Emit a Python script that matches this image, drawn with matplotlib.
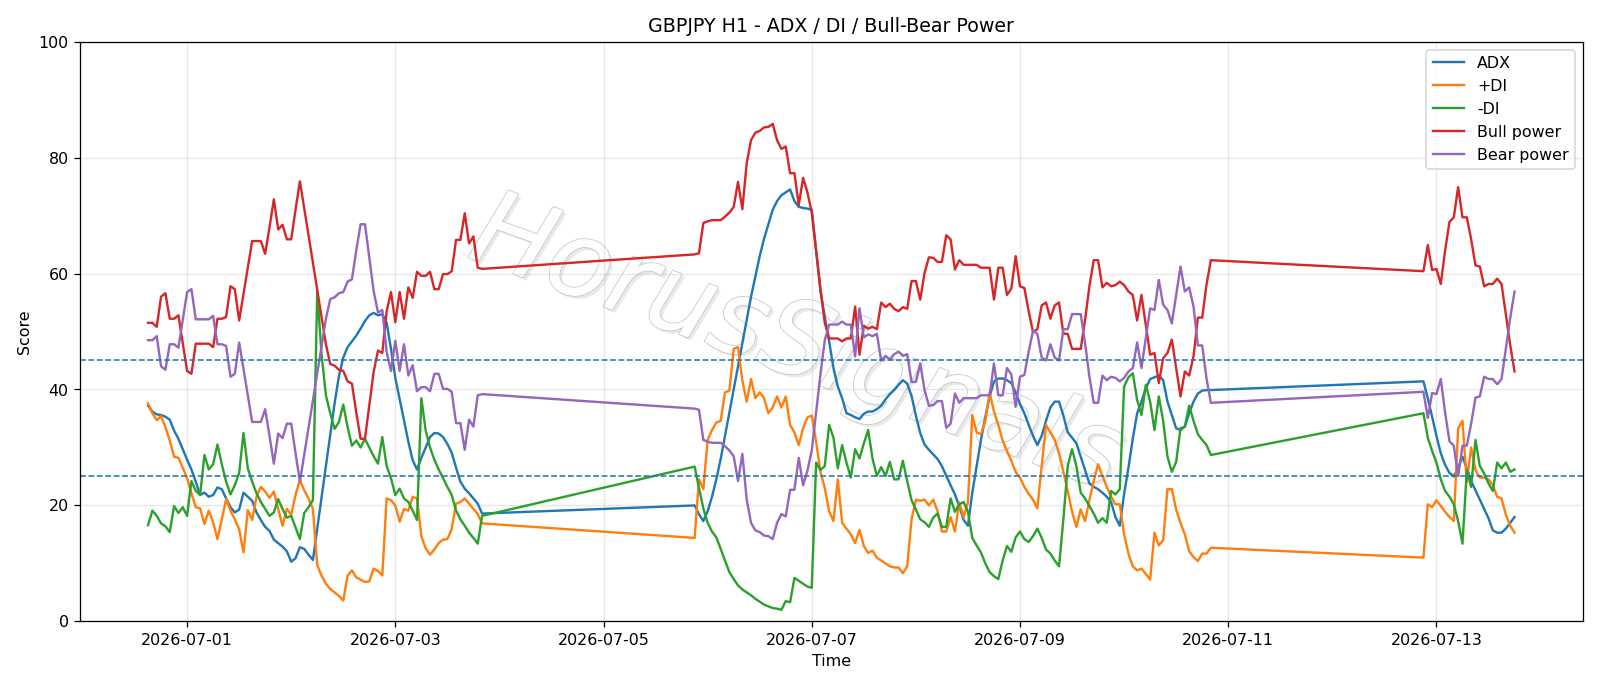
import numpy as np
import pandas as pd
import matplotlib
matplotlib.use("Agg")
import matplotlib.pyplot as plt
import matplotlib.patheffects as pe

# ---- hourly readings, three trading blocks (weekend gaps are bridged by the line) ----
SEG_STARTS = ["2026-06-30 15:00", "2026-07-05 21:00", "2026-07-12 21:00"]

ADX = [
    [37.2, 36.2, 35.7, 35.6, 35.3, 34.8, 32.9, 31.5, 29.7, 27.9,
     26.2, 24.1, 21.8, 22.2, 21.5, 21.8, 23.1, 22.8, 21.2, 19.7,
     18.8, 19.3, 22.2, 21.5, 20.8, 18.8, 17.5, 16.3, 15.6, 14.1,
     13.5, 12.9, 12.1, 10.3, 10.9, 12.8, 12.5, 11.5, 10.6, 16.0,
     21.4, 26.8, 32.2, 37.6, 42.3, 45.5, 47.3, 48.3, 49.3, 50.5,
     51.8, 52.8, 53.2, 52.8, 53.0, 51.5, 47.0, 42.0, 38.3, 34.7,
     31.0, 27.8, 26.2, 28.2, 30.0, 31.8, 32.5, 32.4, 31.8, 30.6,
     29.1, 26.5, 24.1, 22.9, 22.1, 21.2, 20.3, 18.6],
    [20.0, 18.5, 17.3, 19.0, 21.5, 24.5, 28.0, 32.0, 36.0, 40.0,
     44.0, 48.0, 52.0, 56.0, 59.5, 63.0, 66.0, 68.5, 71.0, 72.5,
     73.5, 74.0, 74.5, 72.5, 71.5, 71.3, 71.2, 71.0, 64.0, 57.0,
     52.5, 48.3, 43.7, 40.5, 38.5, 35.9, 35.6, 35.2, 34.9, 35.8,
     36.2, 36.2, 36.6, 37.2, 38.3, 39.2, 39.9, 40.8, 41.6, 41.0,
     38.9, 35.5, 32.5, 30.5, 29.6, 28.8, 28.0, 26.8, 25.1, 23.5,
     21.9, 19.9, 17.5, 16.5, 22.2, 26.8, 31.3, 35.2, 38.8, 41.4,
     41.9, 41.9, 41.6, 41.1, 39.5, 37.5, 35.9, 33.9, 32.0, 30.4,
     32.0, 34.6, 36.9, 37.9, 37.9, 35.5, 32.6, 31.7, 30.7, 28.4,
     26.1, 23.8, 23.2, 22.8, 22.2, 21.5, 20.6, 18.0, 16.5, 22.0,
     26.5, 31.5, 35.9, 37.9, 40.2, 41.8, 42.1, 42.4, 41.6, 37.9,
     35.6, 33.3, 33.0, 33.6, 35.9, 37.9, 39.3, 39.8, 39.9, 39.9],
    [41.4, 38.5, 35.3, 32.0, 29.0, 27.0, 25.6, 25.0, 26.5, 28.4,
     26.4, 24.2, 22.6, 21.0, 19.4, 17.8, 15.7, 15.3, 15.3, 16.0,
     17.0, 18.0],
]

PLUS_DI = [
    [37.6, 35.9, 34.7, 35.4, 33.5, 31.2, 28.4, 28.2, 26.5, 24.7,
     22.1, 19.7, 19.5, 16.8, 19.1, 17.1, 14.2, 17.6, 21.1, 19.1,
     17.6, 15.9, 11.9, 19.2, 17.5, 21.5, 23.2, 22.4, 21.3, 22.4,
     19.4, 16.5, 19.4, 18.4, 21.8, 24.4, 22.6, 21.2, 19.4, 9.7,
     7.9, 6.5, 5.6, 5.0, 4.4, 3.6, 7.9, 8.8, 7.6, 7.2,
     6.8, 6.9, 9.1, 8.7, 7.9, 21.2, 20.9, 20.0, 17.2, 19.4,
     19.1, 21.5, 21.2, 14.7, 12.6, 11.5, 12.4, 13.5, 14.1, 14.2,
     15.9, 20.3, 20.6, 21.2, 20.3, 19.4, 18.5, 16.9],
    [14.4, 24.5, 22.8, 31.3, 33.0, 34.3, 34.6, 39.5, 39.8, 47.0,
     47.3, 41.5, 37.9, 41.8, 38.5, 39.5, 38.5, 35.9, 36.9, 38.8,
     36.9, 38.8, 33.9, 32.6, 30.4, 33.3, 35.2, 35.5, 31.0, 25.8,
     23.0, 19.0, 17.3, 24.5, 17.0, 16.0, 15.0, 13.5, 15.8, 13.0,
     11.8, 12.2, 11.0, 10.5, 10.0, 9.5, 9.3, 9.3, 8.3, 9.5,
     17.6, 21.0, 20.8, 21.0, 20.0, 21.0, 19.0, 15.5, 15.5, 18.0,
     15.5, 20.5, 18.0, 20.5, 35.6, 32.6, 32.3, 34.5, 39.5, 36.2,
     33.9, 31.2, 29.4, 27.7, 25.8, 24.8, 23.2, 22.0, 21.0, 19.5,
     26.8, 33.9, 32.6, 31.3, 29.0, 25.8, 22.5, 18.9, 16.3, 19.3,
     17.3, 20.9, 24.2, 27.1, 25.1, 23.2, 21.5, 20.2, 20.2, 15.0,
     11.7, 9.5, 8.8, 9.1, 8.2, 7.2, 15.3, 13.1, 14.0, 22.8,
     22.8, 19.3, 17.0, 15.0, 12.1, 11.1, 10.4, 11.7, 11.7, 12.7],
    [11.0, 20.2, 19.7, 20.9, 19.9, 18.9, 18.0, 17.3, 33.3, 34.6,
     24.0, 30.0, 26.1, 24.8, 24.8, 24.5, 23.5, 21.5, 21.2, 18.4,
     16.5, 15.3],
]

MINUS_DI = [
    [16.6, 19.1, 18.2, 16.9, 16.4, 15.4, 19.9, 18.7, 19.7, 18.2,
     24.2, 22.5, 21.8, 28.7, 26.2, 27.1, 30.5, 27.1, 24.1, 21.9,
     23.5, 25.6, 32.5, 26.4, 24.1, 22.1, 20.6, 19.4, 18.2, 18.8,
     21.1, 19.4, 17.9, 18.2, 16.2, 14.2, 18.7, 19.7, 20.9, 57.0,
     46.0, 39.0, 35.9, 33.2, 34.4, 37.4, 33.5, 30.3, 31.2, 30.0,
     31.5, 30.0, 28.5, 27.2, 31.8, 26.8, 24.7, 21.8, 22.9, 21.2,
     20.6, 19.1, 17.5, 38.5, 32.9, 30.0, 27.9, 26.2, 24.7, 23.2,
     21.8, 19.1, 17.6, 16.5, 15.3, 14.4, 13.4, 18.2],
    [26.7, 23.0, 19.5, 17.0, 15.5, 14.5, 12.5, 10.5, 8.5, 7.3,
     6.2, 5.5, 5.0, 4.5, 3.9, 3.4, 2.9, 2.6, 2.3, 2.2,
     2.0, 3.5, 3.3, 7.5, 7.0, 6.5, 6.0, 5.8, 27.4, 26.1,
     26.8, 33.9, 31.7, 26.4, 30.4, 27.4, 24.8, 29.7, 28.1, 30.7,
     33.0, 28.1, 25.1, 26.6, 25.1, 27.5, 24.5, 24.5, 27.7, 24.2,
     20.9, 19.3, 17.6, 17.1, 16.3, 17.9, 18.6, 16.3, 16.3, 21.2,
     18.9, 20.2, 20.6, 18.9, 14.4, 13.1, 11.9, 10.0, 8.5, 7.8,
     7.3, 10.5, 13.0, 12.0, 14.5, 15.5, 14.2, 13.7, 14.7, 16.0,
     14.4, 12.4, 11.7, 10.5, 9.5, 17.6, 26.8, 29.7, 26.8, 22.2,
     21.2, 19.9, 18.6, 17.0, 17.8, 17.0, 22.5, 21.9, 22.8, 40.5,
     42.1, 42.8, 38.2, 35.6, 40.8, 37.9, 33.0, 38.8, 34.6, 28.4,
     25.8, 27.5, 33.3, 33.6, 37.2, 34.6, 32.3, 31.3, 30.4, 28.7],
    [35.9, 31.7, 29.4, 27.4, 24.5, 22.5, 21.5, 20.2, 17.3, 13.4,
     26.1, 23.2, 31.3, 26.8, 25.5, 23.8, 22.5, 27.4, 26.4, 27.4,
     25.8, 26.2],
]

BULL = [
    [51.5, 51.5, 50.8, 56.0, 56.6, 52.2, 52.2, 52.8, 48.0, 43.2,
     42.7, 47.9, 47.9, 47.9, 47.9, 47.3, 52.2, 52.2, 52.5, 57.8,
     57.3, 51.9, 56.5, 61.0, 65.6, 65.6, 65.6, 63.4, 68.0, 72.8,
     67.6, 68.4, 65.9, 65.9, 71.0, 75.9, 71.3, 66.6, 61.9, 57.2,
     52.5, 47.8, 44.4, 44.1, 43.4, 43.2, 41.4, 41.0, 36.0, 31.5,
     31.5, 37.2, 43.0, 46.7, 46.3, 53.5, 56.8, 51.6, 56.8, 52.2,
     57.6, 55.8, 60.3, 59.6, 59.6, 60.3, 57.3, 57.3, 59.9, 59.9,
     60.4, 65.8, 65.8, 70.4, 65.2, 66.4, 61.0, 60.8],
    [63.3, 63.5, 68.7, 69.0, 69.2, 69.2, 69.2, 69.8, 70.5, 71.5,
     75.8, 71.1, 79.0, 83.0, 84.3, 84.6, 85.2, 85.3, 85.8, 83.0,
     81.5, 81.9, 77.3, 77.3, 71.8, 76.5, 74.0, 70.5, 64.0, 57.4,
     51.5, 48.8, 48.8, 48.8, 48.3, 48.8, 48.8, 54.3, 46.0, 51.0,
     50.5, 50.8, 50.4, 55.0, 54.2, 54.8, 53.9, 53.5, 54.2, 53.9,
     58.7, 58.7, 55.5, 60.1, 62.8, 62.7, 62.0, 62.0, 66.6, 65.9,
     60.7, 62.3, 61.5, 61.5, 61.5, 61.5, 61.0, 61.0, 61.0, 55.5,
     61.0, 61.0, 56.3, 57.4, 63.0, 57.8, 57.5, 53.5, 49.9, 50.4,
     54.5, 55.0, 52.2, 54.5, 55.0, 49.6, 49.6, 47.0, 47.0, 47.0,
     52.0, 57.8, 62.3, 62.3, 57.6, 58.4, 57.8, 58.0, 58.6, 58.0,
     56.9, 56.3, 51.9, 56.3, 51.2, 46.0, 46.3, 41.1, 45.4, 46.3,
     48.6, 43.7, 38.8, 43.1, 42.4, 45.7, 52.4, 52.4, 58.1, 62.3],
    [60.4, 64.9, 60.6, 60.8, 58.2, 64.0, 68.9, 69.7, 74.9, 69.7,
     69.7, 65.9, 61.4, 61.2, 57.8, 58.2, 58.2, 59.1, 58.2, 52.9,
     47.7, 43.1],
]

BEAR = [
    [48.5, 48.5, 49.2, 44.0, 43.4, 47.8, 47.8, 47.2, 52.0, 56.8,
     57.3, 52.1, 52.1, 52.1, 52.1, 52.7, 47.8, 47.8, 47.5, 42.2,
     42.7, 48.1, 43.5, 39.0, 34.4, 34.4, 34.4, 36.6, 32.0, 27.2,
     32.4, 31.6, 34.1, 34.1, 29.0, 24.1, 28.7, 33.4, 38.1, 42.8,
     47.5, 52.2, 55.6, 55.9, 56.6, 56.8, 58.6, 59.0, 64.0, 68.5,
     68.5, 62.8, 57.0, 53.3, 53.7, 46.5, 43.2, 48.4, 43.2, 47.8,
     42.4, 44.2, 39.7, 40.4, 40.4, 39.7, 42.7, 42.7, 40.1, 40.1,
     39.6, 34.2, 34.2, 29.6, 34.8, 33.6, 39.0, 39.2],
    [36.7, 36.5, 31.3, 31.0, 30.8, 30.8, 30.8, 30.2, 29.5, 28.5,
     24.2, 28.9, 21.0, 17.0, 15.7, 15.4, 14.8, 14.7, 14.2, 17.0,
     18.5, 18.1, 22.7, 22.7, 28.2, 23.5, 26.0, 29.5, 36.0, 42.6,
     48.5, 51.2, 51.2, 51.2, 51.7, 51.2, 51.2, 45.7, 54.0, 49.0,
     49.5, 49.2, 49.6, 45.0, 45.8, 45.2, 46.1, 46.5, 45.8, 46.1,
     41.3, 41.3, 44.5, 39.9, 37.2, 37.3, 38.0, 38.0, 33.4, 34.1,
     39.3, 37.7, 38.5, 38.5, 38.5, 38.5, 39.0, 39.0, 39.0, 44.5,
     39.0, 39.0, 43.7, 42.6, 37.0, 42.2, 42.5, 46.5, 50.1, 49.6,
     45.5, 45.0, 47.8, 45.5, 45.0, 50.4, 50.4, 53.0, 53.0, 53.0,
     48.0, 42.2, 37.7, 37.7, 42.4, 41.6, 42.2, 42.0, 41.4, 42.0,
     43.1, 43.7, 48.1, 43.7, 48.8, 54.0, 53.7, 58.9, 54.6, 53.7,
     51.4, 56.3, 61.2, 56.9, 57.6, 54.3, 47.6, 47.6, 41.9, 37.7],
    [39.6, 35.1, 39.4, 39.2, 41.8, 36.0, 31.1, 30.3, 25.1, 30.3,
     30.3, 34.1, 38.6, 38.8, 42.2, 41.8, 41.8, 40.9, 41.8, 47.1,
     52.3, 56.9],
]

SERIES = [("ADX", ADX), ("+DI", PLUS_DI), ("-DI", MINUS_DI),
          ("Bull power", BULL), ("Bear power", BEAR)]

# build the time index block by block
idx = []
for i, start in enumerate(SEG_STARTS):
    n = len(ADX[i])
    for name, seg in SERIES:
        assert len(seg[i]) == n, (name, i, len(seg[i]), n)
    idx.append(pd.date_range(start, periods=n, freq="h"))
idx = idx[0].append(idx[1]).append(idx[2])

df = pd.DataFrame({name: sum(seg, []) for name, seg in SERIES}, index=idx)

fig, ax = plt.subplots(figsize=(14, 6.003), dpi=1600 / 14)
for name in df.columns:
    ax.plot(df.index, df[name], label=name, linewidth=1.5)

ax.axhline(45, linestyle="--", linewidth=1)
ax.axhline(25, linestyle="--", linewidth=1)

# faint outlined watermark with a soft drop shadow
ax.text(0.477, 0.475, "HorusSignals", transform=ax.transAxes, fontsize=66,
        color="white", alpha=0.85, rotation=-20, ha="center", va="center",
        style="italic", zorder=0,
        path_effects=[pe.SimplePatchShadow(offset=(2, -2), shadow_rgbFace="#a8a8a8", alpha=0.25),
                      pe.withStroke(linewidth=1.2, foreground="#c2c2c2"),
                      pe.Normal()])

ax.set_ylim(0, 100)
ax.set_title("GBPJPY H1 - ADX / DI / Bull-Bear Power")
ax.set_xlabel("Time")
ax.set_ylabel("Score")
ax.grid(True, alpha=0.3)
ax.legend(loc="upper right")
fig.tight_layout()
fig.savefig("out.png")
